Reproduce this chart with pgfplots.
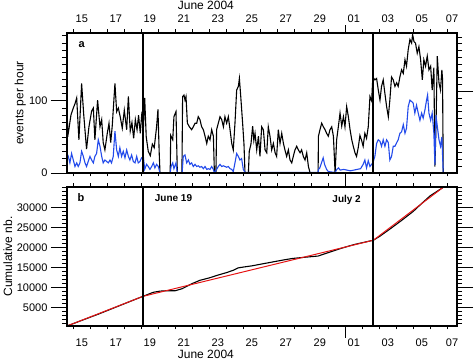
\documentclass[border=0pt]{standalone}
\usepackage{pgfplots}
\pgfplotsset{compat=1.18}
\usepackage{pgfplotstable}
\usepackage{fontspec}
\setmainfont{Liberation Sans}
\definecolor{myblue}{RGB}{35,75,235}
\definecolor{myred}{RGB}{230,20,20}

\pgfplotstableread{
x y
14.63 108
14.67 50
14.75 62
14.86 80
15.0 90
15.1 96
15.2 104
15.33 46
15.49 124
15.61 82
15.78 33
15.92 64
16.08 86
16.18 90
16.27 46
16.43 101
16.57 64
16.67 74
16.76 42
16.86 32
17.0 55
17.1 69
17.2 42
17.29 65
17.45 124
17.55 85
17.65 90
17.76 78
17.88 62
18.0 87
18.14 60
18.24 106
18.35 58
18.45 70
18.55 48
18.65 74
18.75 60
18.84 80
18.94 55
19.04 85
19.12 60
19.2 104
19.29 50
19.41 30
19.53 24
19.65 40
19.76 35
19.9 64
19.98 88
20.05 30
20.1 0
20.7 0
20.73 52
20.85 46
20.92 78
21.04 85
21.12 0
21.39 0
21.43 106
21.51 108
21.57 101
21.63 106
21.71 69
21.83 64
21.96 60
22.06 64
22.16 69
22.26 69
22.35 78
22.45 74
22.55 64
22.65 60
22.75 51
22.85 41
22.94 51
23.04 46
23.14 60
23.24 51
23.3 0
23.39 0
23.43 60
23.53 69
23.63 78
23.73 74
23.83 64
23.92 78
24.02 69
24.12 78
24.22 60
24.32 41
24.41 32
24.51 69
24.61 115
24.71 120
24.77 131
24.85 106
24.96 69
25.04 40
25.1 0
25.3 0
25.35 30
25.45 40
25.55 65
25.62 45
25.69 55
25.79 32
25.89 51
25.98 23
26.08 64
26.18 60
26.28 32
26.38 28
26.47 64
26.57 51
26.67 32
26.77 41
26.87 28
26.96 23
27.06 60
27.16 41
27.26 55
27.36 41
27.45 32
27.55 23
27.65 32
27.75 18
27.85 14
27.94 23
28.04 32
28.14 37
28.24 32
28.34 28
28.43 32
28.53 23
28.63 18
28.73 28
28.83 9
28.93 0
29.4 0
29.42 51
29.51 60
29.61 69
29.71 64
29.81 60
29.9 55
30.0 51
30.1 60
30.2 64
30.3 51
30.4 0
30.49 46
30.59 64
30.69 83
30.79 65
30.89 78
30.98 64
31.08 92
31.18 78
31.28 60
31.38 46
31.47 37
31.57 28
31.66 23
31.76 35
31.86 52
31.96 45
32.05 37
32.15 55
32.25 48
32.35 64
32.45 106
32.55 100
32.62 133
32.74 129
32.84 131
32.94 115
33.04 101
33.13 120
33.23 129
33.33 110
33.43 92
33.53 78
33.62 101
33.72 133
33.82 129
33.92 120
34.02 125
34.11 120
34.21 133
34.31 143
34.41 138
34.51 157
34.6 148
34.7 171
34.8 185
34.9 180
34.96 192
35.04 182
35.13 180
35.23 166
35.33 175
35.43 157
35.53 129
35.62 157
35.72 148
35.82 162
35.92 143
36.02 148
36.11 115
36.21 146
36.27 9
36.33 60
36.41 162
36.51 125
36.6 115
36.68 143
36.72 130
36.76 0
}\blacktab

\pgfplotstableread{
x y
14.63 27
14.71 23
14.8 14
14.9 27
15.0 18
15.1 9
15.2 14
15.29 9
15.39 14
15.49 30
15.59 23
15.69 14
15.78 9
15.88 16
15.98 23
16.08 18
16.18 14
16.27 23
16.37 27
16.47 46
16.57 37
16.67 23
16.76 14
16.86 18
16.96 16
17.06 14
17.16 18
17.25 14
17.35 23
17.45 58
17.55 32
17.65 23
17.74 35
17.84 23
17.94 30
18.04 21
18.14 32
18.24 23
18.33 18
18.43 25
18.53 16
18.63 14
18.73 23
18.82 14
18.92 16
19.02 21
19.12 23
19.2 5
19.31 12
19.41 9
19.51 5
19.61 9
19.71 14
19.8 7
19.9 12
20.0 9
20.1 0
20.7 0
20.75 9
20.85 14
20.92 6
21.04 14
21.12 0
21.4 0
21.47 23
21.57 25
21.67 14
21.77 18
21.86 12
21.96 14
22.06 9
22.16 12
22.26 9
22.35 10
22.45 8
22.55 9
22.65 6
22.75 9
22.85 5
22.94 6
23.04 5
23.14 9
23.24 5
23.3 0
23.43 5
23.53 9
23.63 12
23.73 9
23.83 10
23.92 9
24.02 8
24.12 9
24.22 6
24.32 5
24.41 2
24.51 14
24.61 27
24.71 23
24.8 18
24.9 20
25.0 5
25.1 0.8
29.4 0.8
29.42 5
29.5 7
29.6 14
29.7 21
29.78 12
29.9 5
30.0 2
30.3 1
30.4 0.5
30.5 5
30.6 7
30.7 4
30.9 5
31.1 4
31.3 3
31.5 4
31.7 5
31.9 6
32.05 12
32.15 18
32.25 7
32.35 17
32.45 9
32.55 12
32.62 14
32.74 23
32.84 41
32.94 46
33.04 44
33.13 37
33.23 46
33.33 37
33.43 46
33.53 42
33.62 18
33.72 23
33.82 37
33.92 37
34.02 42
34.11 46
34.21 55
34.31 57
34.41 67
34.51 55
34.6 62
34.7 92
34.8 101
34.9 99
34.99 97
35.09 83
35.19 94
35.29 83
35.39 73
35.49 83
35.58 76
35.68 87
35.78 101
35.84 108
35.92 83
36.02 73
36.11 83
36.21 55
36.27 11
36.33 80
36.41 65
36.51 46
36.6 37
36.68 50
36.76 0
}\bluetab

\pgfplotstableread{
x y
14.63 400
15.5 1800
16.5 3400
17.5 5100
18.5 6800
19.1 7800
19.7 8800
20.1 9100
20.5 9200
21.0 9200
21.4 9700
22.0 11000
22.45 11800
23.0 12400
23.43 13000
24.0 13700
24.41 14300
24.7 14900
25.0 15100
25.5 15400
26.0 15800
26.76 16400
27.4 16900
27.9 17250
28.5 17500
29.0 17700
29.4 17850
30.0 18700
30.7 19700
31.5 20700
32.65 21800
33.0 22700
33.63 24600
34.3 26700
35.0 29000
35.5 31000
36.0 32900
36.4 34000
36.76 35000
}\cumtab

\pgfplotstableread{
x y
14.63 400
19.1 7800
32.65 21800
37.0 35770
}\fittab

\pgfplotsset{
  base/.style={scale only axis, width=390pt, xmin=14.63, xmax=37.57,
    axis line style={line width=1.1pt}, tick align=outside,
    every tick/.style={black, line width=0.8pt},
    scaled y ticks=false,
    /pgf/number format/assume math mode=true,
    /pgf/number format/1000 sep={},
    ticklabel style={font=\fontsize{11}{13}\selectfont},
    anchor=south west},
  ylab/.style={every axis y label/.style={at={(axis description cs:#1,0.5)}, rotate=90, anchor=center, font=\fontsize{12}{14}\selectfont}},
  xt/.style={ymin=0, ymax=1, ytick=\empty,
    xtick={15.5,17.5,19.5,21.5,23.5,25.5,27.5,29.5,31.5,33.5,35.5,37.28},
    xticklabels={15,17,19,21,23,25,27,29,01,03,05,07},
    minor xtick={15,16,...,37}, xtick pos=both,
    major tick length=0pt, minor tick length=3.5pt, clip=false},
}

\begin{document}
\begin{tikzpicture}
\path[use as bounding box] (0,0) rectangle (474pt,361pt);

% ---------- panel a ----------
\begin{axis}[base, height=140pt, at={(67pt,188pt)}, ymin=0, ymax=194,
  xtick=\empty, ytick={0,100}, minor ytick={10,20,...,190}, ytick pos=left,
  major tick length=16pt, minor tick length=5pt,
  ylab=-0.12, ylabel={events per hour}]
\addplot[black, line width=1.1pt] table {\blacktab};
\addplot[myblue, line width=1.1pt] table {\bluetab};
\addplot[black, line width=1.8pt] coordinates {(19.1,0) (19.1,194)};
\addplot[black, line width=1.8pt] coordinates {(32.65,0) (32.65,194)};
\node[font=\bfseries\fontsize{11}{13}\selectfont] at (axis description cs:0.0377,0.914) {a};
\end{axis}
\begin{axis}[base, height=140pt, at={(67pt,188pt)}, ymin=0, ymax=206,
  xtick=\empty, ytick={120}, yticklabels={}, minor ytick={10,20,...,200}, ytick pos=right,
  major tick length=16pt, minor tick length=5pt]
\end{axis}
\begin{axis}[base, height=140pt, at={(67pt,188pt)}, xt, xticklabel pos=right,
  xticklabel style={anchor=center, yshift=14pt}]
\draw[line width=0.8pt] (axis cs:31,1) -- ++(0pt,8pt);
\draw[line width=0.8pt] (axis cs:31,0) -- ++(0pt,-8pt);
\node[font=\fontsize{12}{14}\selectfont] at (axis cs:22.8,1) [yshift=28pt] {June 2004};
\end{axis}

% ---------- panel b ----------
\begin{axis}[base, height=139pt, at={(67pt,35pt)}, ymin=400, ymax=35075,
  xtick=\empty, ytick={5000,10000,...,30000}, minor ytick={1000,2000,...,35000},
  ytick pos=both, yticklabel pos=left,
  major tick length=16pt, minor tick length=5pt,
  ylab=-0.152, ylabel={Cumulative nb.}]
\addplot[black, line width=1.1pt] table {\cumtab};
\addplot[myred, line width=1.0pt] table {\fittab};
\addplot[black, line width=1.8pt] coordinates {(19.1,400) (19.1,35075)};
\addplot[black, line width=1.8pt] coordinates {(32.65,400) (32.65,35075)};
\node[font=\bfseries\fontsize{11}{13}\selectfont] at (axis description cs:0.0359,0.921) {b};
\node[font=\bfseries\fontsize{10}{12}\selectfont] at (axis description cs:0.273,0.921) {June 19};
\node[font=\bfseries\fontsize{10}{12}\selectfont] at (axis description cs:0.717,0.906) {July 2};
\end{axis}
\begin{axis}[base, height=139pt, at={(67pt,35pt)}, xt, xticklabel pos=left,
  xticklabel style={anchor=center, yshift=-17pt}]
\draw[line width=0.8pt] (axis cs:31,1) -- ++(0pt,8pt);
\draw[line width=0.8pt] (axis cs:31,0) -- ++(0pt,-12pt);
\node[font=\fontsize{12}{14}\selectfont] at (axis cs:22.8,0) [yshift=-28pt] {June 2004};
\end{axis}
\end{tikzpicture}
\end{document}
